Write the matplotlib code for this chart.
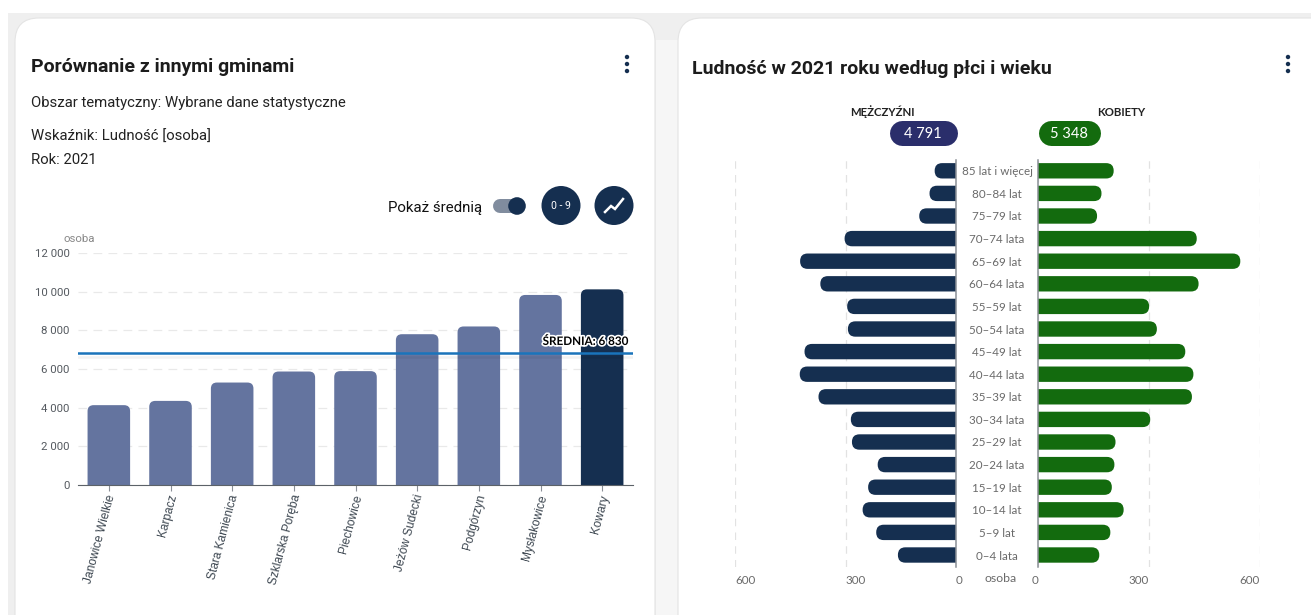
import matplotlib
matplotlib.use("Agg")
import matplotlib.pyplot as plt
from matplotlib.patches import FancyBboxPatch, Circle
from matplotlib.transforms import ScaledTranslation
import matplotlib.patheffects as pe

W, H = 1311, 615

# Porównanie z innymi gminami
gminy = ["Janowice Wielkie", "Karpacz", "Stara Kamienica", "Szklarska Poręba", "Piechowice",
         "Jeżów Sudecki", "Podgórzyn", "Mysłakowice", "Kowary"]
ludnosc = [4130, 4350, 5300, 5870, 5890, 7800, 8200, 9830, 10120]
srednia = 6830
yticks_l = [0, 2000, 4000, 6000, 8000, 10000, 12000]

# Piramida wieku
wiek = ["0–4 lata", "5–9 lat", "10–14 lat", "15–19 lat", "20–24 lata", "25–29 lat", "30–34 lata",
        "35–39 lat", "40–44 lata", "45–49 lat", "50–54 lata", "55–59 lat", "60–64 lata", "65–69 lat",
        "70–74 lata", "75–79 lat", "80–84 lat", "85 lat i więcej"]
mezczyzni = [158, 217, 254, 239, 213, 283, 286, 374, 425, 412, 294, 296, 369, 424, 303, 100, 72, 58]
kobiety = [166, 196, 232, 200, 207, 210, 304, 417, 421, 399, 322, 301, 435, 548, 430, 160, 172, 205]
suma_m = 4791
suma_k = 5348
xticks_p = [0, 300, 600]

NAVY = "#152f50"
BLUE = "#64749f"
GREEN = "#136b0e"
GREY = "#555a60"


def fmt(v):
    return f"{v:,}".replace(",", " ")


def axes_px(x0, y0, x1, y1):
    # pozycja w pikselach, y od góry
    return fig.add_axes([x0 / W, 1 - y1 / H, (x1 - x0) / W, (y1 - y0) / H])


def pill(x0, y0, x1, y1, color):
    r = (y1 - y0) / 2
    bg.plot([x0 + r, x1 - r], [y0 + r, y0 + r], color=color, lw=2 * r * 0.72, solid_capstyle="round")


def dots(x, y):
    for dy in (-7, 0, 7):
        bg.add_patch(Circle((x, y + dy), 2.2, fc=NAVY, ec="none"))


def zaokraglij(ax, bars, r_px, poziome=False):
    # zamiana prostokątów z ax.bar/barh na zaokrąglone
    box = ax.get_position()
    x0, x1 = ax.get_xlim()
    y0, y1 = ax.get_ylim()
    px = abs(box.width * W / (x1 - x0))
    py = abs(box.height * H / (y1 - y0))
    for b in bars:
        b.set_visible(False)
        x, y, w, h = b.get_x(), b.get_y(), b.get_width(), b.get_height()
        r = r_px / px
        if poziome:
            x, w = x - 2 * r, w + 2 * r
        else:
            e = r_px / py * 2
            y, h = y - e, h + e
        ax.add_patch(FancyBboxPatch((x, y), w, h, boxstyle=f"round,pad=0,rounding_size={r}",
                                    mutation_aspect=px / py, fc=b.get_facecolor(), ec="none",
                                    clip_on=True, zorder=3))


fig = plt.figure(figsize=(W / 100, H / 100), dpi=100)
fig.patch.set_facecolor("white")

# tło i karty
bg = fig.add_axes([0, 0, 1, 1])
bg.set_xlim(0, W)
bg.set_ylim(H, 0)
bg.axis("off")
bg.fill_between([8, W], 13, H, color="#efefef", lw=0)
bg.fill_between([656, 678], 40, H, color="#f6f6f6", lw=0)
for x0, x1 in [(15, 655), (678, W + 40)]:
    bg.add_patch(FancyBboxPatch((x0, 18), x1 - x0, H + 30, boxstyle="round,pad=0,rounding_size=24",
                                fc="white", ec="#e4e4e4", lw=0.8))

# nagłówki
bg.text(31, 72.5, "Porównanie z innymi gminami", family="Roboto", weight="bold", fontsize=14,
        color="#1c1c1c", va="baseline")
bg.text(31, 107, "Obszar tematyczny: Wybrane dane statystyczne", family="Roboto", fontsize=10.75,
        color="#222222", va="baseline")
bg.text(31, 140.5, "Wskaźnik: Ludność [osoba]", family="Roboto", fontsize=10.75, color="#222222", va="baseline")
bg.text(31, 163.5, "Rok: 2021", family="Roboto", fontsize=10.75, color="#222222", va="baseline")
bg.text(692, 74.5, "Ludność w 2021 roku według płci i wieku", family="Roboto", weight="bold", fontsize=14,
        color="#1c1c1c", va="baseline")
dots(627, 64)
dots(1288, 64)

# przełącznik i przyciski
bg.text(482, 212, "Pokaż średnią", family="Roboto", fontsize=10.8, color="#111111", va="baseline", ha="right")
pill(493, 199, 523, 213, "#808c9e")
bg.add_patch(Circle((517, 206), 8.8, fc=NAVY, ec="none", zorder=3))
bg.add_patch(Circle((561, 205.5), 19.5, fc=NAVY, ec="none"))
bg.text(561, 206, "0 - 9", family="Roboto", fontsize=7.6, color="white", ha="center", va="center")
bg.add_patch(Circle((614, 205.5), 19.5, fc=NAVY, ec="none"))
bg.plot([605, 611, 615, 623], [212, 206, 209, 199], color="white", lw=1.8, solid_joinstyle="miter")

# wykres słupkowy
ax = axes_px(78, 253, 633, 485)
ax.set_xlim(-0.5, len(gminy) - 0.5)
ax.set_ylim(0, 12000)
kolory = [BLUE] * (len(gminy) - 1) + [NAVY]
bars = ax.bar(range(len(gminy)), ludnosc, width=0.69, color=kolory, zorder=3)
zaokraglij(ax, bars, 6)
ax.patch.set_alpha(0)
ax.set_yticks(yticks_l)
ax.set_yticklabels([fmt(v) for v in yticks_l], family="Roboto", fontsize=8.2, color=GREY)
ax.set_xticks(range(len(gminy)))
ax.set_xticklabels(gminy, rotation=75, ha="right", va="center", rotation_mode="anchor",
                   family="Liberation Sans", fontsize=8.6, color="#3c4650")
ax.tick_params(axis="y", length=0, pad=6)
ax.tick_params(axis="x", length=4, width=0.8, color="#8a8f96", pad=3)
# tick_params resetuje transformację, więc przesunięcie dopiero tutaj
przesun = ScaledTranslation(3 / 100, 0, fig.dpi_scale_trans)
for lab in ax.get_xticklabels():
    lab.set_transform(lab.get_transform() + przesun)
ax.grid(axis="y", color="#e9e9e9", ls=(0, (7, 5)), lw=0.9, zorder=0)
ax.set_axisbelow(True)
for s in ("top", "left", "right"):
    ax.spines[s].set_visible(False)
ax.spines["bottom"].set_color("#5c6268")
ax.spines["bottom"].set_zorder(5)
ax.axhline(srednia, color="#1a74bb", lw=1.8, zorder=4,
           path_effects=[pe.SimpleLineShadow(offset=(0, -3), alpha=0.05, shadow_color="black"), pe.Normal()])
ax.text(0.991, srednia + 310, f"ŚREDNIA: {fmt(srednia)}", transform=ax.get_yaxis_transform(), family="Lato",
        weight="bold", fontsize=8.4, ha="right", va="bottom", color="black", zorder=6, clip_on=False,
        path_effects=[pe.withStroke(linewidth=2.4, foreground="white")])
bg.text(63, 242.5, "osoba", family="Roboto", fontsize=8.2, color="#888888", va="baseline")

# piramida
KROK = 22.6
y_dol = -(567 - 555) / KROK
y_gora = (555 - 155) / KROK

ax_m = axes_px(735.4, 155, 956, 567)
ax_k = axes_px(1038, 155, 1259.5, 567)
for a, wart, kolor in [(ax_m, mezczyzni, NAVY), (ax_k, kobiety, GREEN)]:
    a.set_ylim(y_dol, y_gora)
    a.set_xlim(*((600, 0) if a is ax_m else (0, 600)))
    b = a.barh(range(len(wiek)), wart, height=0.68, color=kolor, zorder=3)
    zaokraglij(a, b, 7.5, poziome=True)
    a.patch.set_alpha(0)
    a.set_xticks(xticks_p)
    a.grid(axis="x", color="#e2e2e2", ls=(0, (6, 5)), lw=0.9, zorder=0)
    a.set_axisbelow(True)
    for s in a.spines.values():
        s.set_visible(False)
    a.tick_params(axis="x", length=0, pad=6)
    a.set_xticklabels([str(v) for v in xticks_p], family="Lato", fontsize=8.4, color="#6a6a6a",
                      ha="left" if a is ax_m else "right")
    a.axvline(0, ymax=0.988, color="#8a8f96", lw=1.1, zorder=4, clip_on=False)

ax_m.set_yticks([])
ax_k.set_yticks(range(len(wiek)))
ax_k.set_yticklabels(wiek, family="Lato", fontsize=8.4, color="#6a6a6a", ha="center")
ax_k.tick_params(axis="y", length=0, pad=29.5)

bg.text(1001, 582.5, "osoba", family="Lato", fontsize=8.8, color="#6a6a6a", ha="center", va="baseline")
bg.text(882.5, 115.5, "MĘŻCZYŹNI", family="Lato", weight="bold", fontsize=8.2, color="#222222", ha="center", va="baseline")
bg.text(1121, 115.5, "KOBIETY", family="Lato", weight="bold", fontsize=8.2, color="#222222", ha="center", va="baseline")
pill(889, 120, 957, 145, "#2a2e6b")
pill(1038, 120, 1100, 145, GREEN)
bg.text(923, 138, fmt(suma_m), family="Lato", fontsize=10.5, color="white", ha="center", va="baseline")
bg.text(1069, 138, fmt(suma_k), family="Lato", fontsize=10.5, color="white", ha="center", va="baseline")

fig.savefig("out.png", dpi=100)
